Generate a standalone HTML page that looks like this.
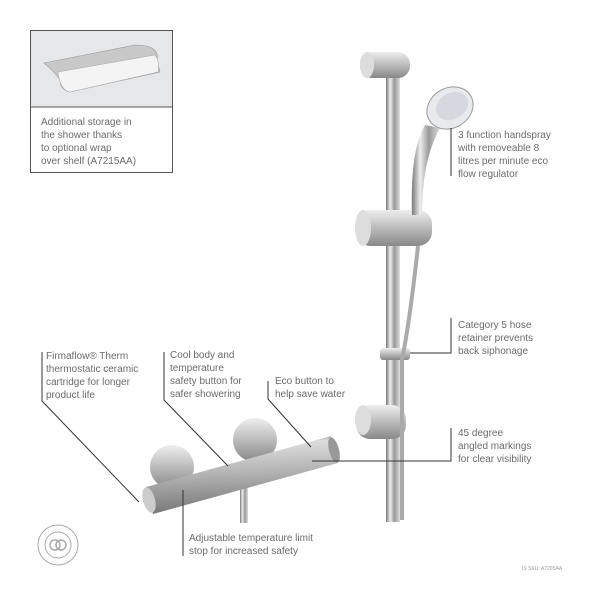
<!DOCTYPE html>
<html><head><meta charset="utf-8"><style>
body{margin:0;width:600px;height:600px;background:#fff;overflow:hidden;position:relative;font-family:"Liberation Sans",sans-serif}
.t{position:absolute;font-size:10px;line-height:13px;color:#6b6b6b;white-space:nowrap}
</style></head><body>
<svg width="600" height="600" style="position:absolute;left:0;top:0">
<defs>
<linearGradient id="ch" x1="0" y1="0" x2="1" y2="0"><stop offset="0" stop-color="#777"/><stop offset="0.3" stop-color="#eee"/><stop offset="0.6" stop-color="#999"/><stop offset="1" stop-color="#ddd"/></linearGradient>
<linearGradient id="cv" x1="0" y1="0" x2="0" y2="1"><stop offset="0" stop-color="#eee"/><stop offset="0.5" stop-color="#bbb"/><stop offset="1" stop-color="#888"/></linearGradient>
<linearGradient id="bar" x1="0" y1="0" x2="0.1" y2="1"><stop offset="0" stop-color="#555"/><stop offset="0.15" stop-color="#ddd"/><stop offset="0.5" stop-color="#b5b5b5"/><stop offset="1" stop-color="#777"/></linearGradient>
</defs>
<!-- shelf box -->
<rect x="30.5" y="30.5" width="142" height="142" fill="#fff" stroke="#555"/>
<rect x="31" y="31" width="141" height="76" fill="#e6e7e9"/>
<line x1="30" y1="107" x2="172" y2="107" stroke="#555"/>
<path d="M44 63 L135 45 Q160 45 157 60 L160 72 L70 92 Q60 90 60 80 Q55 72 44 63Z" fill="#c8c8c8" stroke="#999" stroke-width="0.6"/>
<path d="M58 72 L155 55 Q160 62 158 72 L70 92 Q60 90 58 72Z" fill="#f4f4f4" stroke="#aaa" stroke-width="0.5"/>
<!-- rail -->
<rect x="386" y="60" width="14" height="462" fill="url(#ch)"/>
<rect x="360" y="52" width="50" height="26" rx="12" fill="url(#cv)"/>
<ellipse cx="367" cy="65" rx="7" ry="13" fill="#ddd"/>
<rect x="356" y="210" width="76" height="36" rx="14" fill="url(#cv)"/>
<ellipse cx="363" cy="228" rx="8" ry="18" fill="#ddd"/>
<rect x="380" y="348" width="30" height="12" rx="3" fill="url(#cv)"/>
<rect x="356" y="405" width="50" height="34" rx="14" fill="url(#cv)"/>
<ellipse cx="363" cy="420" rx="8" ry="15" fill="#ddd"/>
<!-- hose -->
<path d="M418 246 Q410 320 402 360 L402 520" fill="none" stroke="#aaa" stroke-width="4"/>
<!-- handle -->
<path d="M425 125 Q410 150 412 215 L422 215 Q422 160 440 128Z" fill="url(#ch)"/>
<ellipse cx="450" cy="108" rx="24" ry="20" transform="rotate(-30 450 108)" fill="#e9eaee" stroke="#999"/>
<ellipse cx="452" cy="106" rx="17" ry="13" transform="rotate(-30 452 106)" fill="#d5d8de"/>
<!-- mixer -->
<circle cx="172" cy="467" r="22" fill="url(#cv)"/>
<circle cx="255" cy="440" r="22" fill="url(#cv)"/>
<rect x="240" y="485" width="8" height="38" fill="url(#ch)"/>
<polygon points="146,487 331,436 338,463 153,514" fill="url(#bar)"/>
<ellipse cx="149" cy="500" rx="6" ry="13" transform="rotate(-15 149 500)" fill="#ccc"/>
<ellipse cx="334" cy="450" rx="5" ry="13" transform="rotate(-15 334 450)" fill="#999"/>
<!-- leader lines -->
<g stroke="#333" stroke-width="1" fill="none">
<polyline points="42,352 42,401 139,502"/>
<polyline points="164,352 164,400 228,466"/>
<polyline points="268,381 268,399 311,447"/>
<line x1="183" y1="490" x2="183" y2="556"/>
<line x1="451" y1="128" x2="451" y2="176"/>
<polyline points="451,318 451,353 410,353"/>
<polyline points="451,428 451,461 312,461"/>
</g>
<!-- logo -->
<circle cx="58" cy="545" r="20" fill="none" stroke="#aaa"/>
<circle cx="58" cy="545" r="13" fill="none" stroke="#aaa"/>
<circle cx="55" cy="545" r="5" fill="none" stroke="#aaa" stroke-width="1.5"/>
<circle cx="61" cy="545" r="5" fill="none" stroke="#aaa" stroke-width="1.5"/>
</svg>
<div class="t" style="left:41px;top:116px">Additional storage in<br>the shower thanks<br>to optional wrap<br>over shelf (A7215AA)</div>
<div class="t" style="left:458px;top:129px">3 function handspray<br>with removeable 8<br>litres per minute eco<br>flow regulator</div>
<div class="t" style="left:458px;top:319px">Category 5 hose<br>retainer prevents<br>back siphonage</div>
<div class="t" style="left:458px;top:427px">45 degree<br>angled markings<br>for clear visibility</div>
<div class="t" style="left:46px;top:350px">Firmaflow® Therm<br>thermostatic ceramic<br>cartridge for longer<br>product life</div>
<div class="t" style="left:170px;top:349px">Cool body and<br>temperature<br>safety button for<br>safer showering</div>
<div class="t" style="left:275px;top:375px">Eco button to<br>help save water</div>
<div class="t" style="left:189px;top:532px">Adjustable temperature limit<br>stop for increased safety</div>
<div class="t" style="left:522px;top:563px;font-size:5px;color:#999">IS SKU: A7205AA</div>
</body></html>
